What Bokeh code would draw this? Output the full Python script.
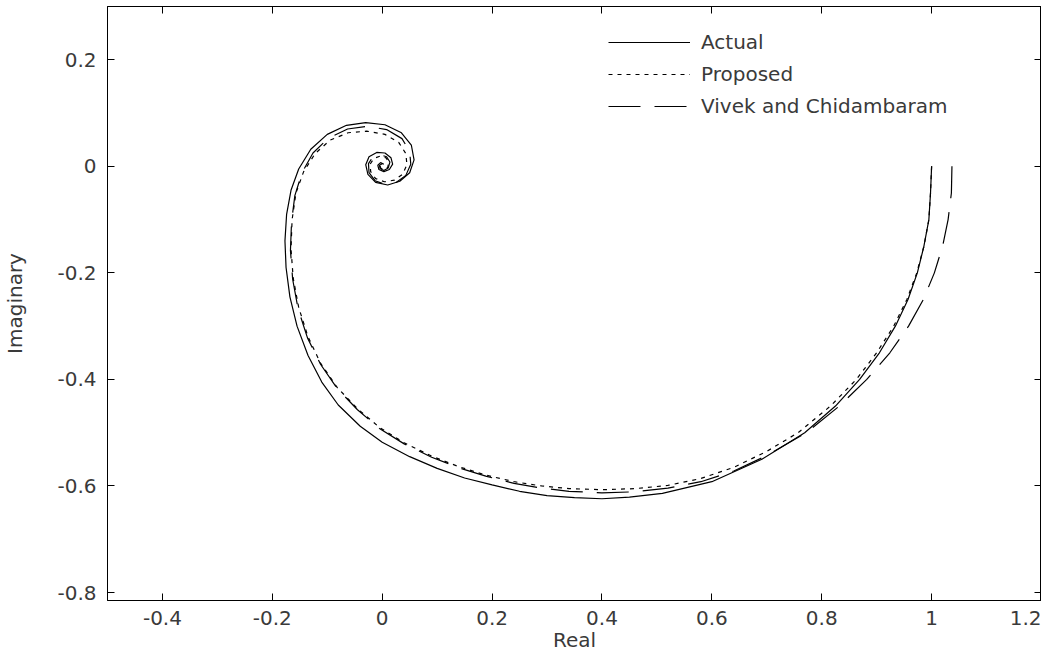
from bokeh.plotting import figure
from bokeh.models import (Legend, LegendItem, LinearAxis, FixedTicker,
                          CustomJSTickFormatter, Range1d)
from bokeh.embed import file_html
from bokeh.resources import INLINE

# ---------------- data ----------------
x_ticks = [-0.4, -0.2, 0, 0.2, 0.4, 0.6, 0.8, 1, 1.2]
x_tick_labels = ["-0.4", "-0.2", "0", "0.2", "0.4", "0.6", "0.8", "1", "1.2"]
y_ticks = [-0.8, -0.6, -0.4, -0.2, 0, 0.2]
y_tick_labels = ["-0.8", "-0.6", "-0.4", "-0.2", "0", "0.2"]

actual_re = [1.000, 0.998, 0.995, 0.986, 0.974, 0.957, 0.934, 0.905, 0.869, 0.825,
             0.769, 0.691, 0.600, 0.510, 0.450, 0.400, 0.350, 0.300, 0.250, 0.200,
             0.150, 0.100, 0.050, 0.000, -0.040, -0.080, -0.110, -0.135, -0.155,
             -0.168, -0.175, -0.177, -0.174, -0.166, -0.152, -0.130, -0.100, -0.065,
             -0.030, 0.005, 0.035, 0.053, 0.058, 0.050, 0.032, 0.010, -0.012, -0.026,
             -0.030, -0.024, -0.010, 0.005, 0.016, 0.019, 0.013, 0.003, -0.006,
             -0.008, -0.003, 0.003]
actual_im = [0.000, -0.050, -0.100, -0.150, -0.200, -0.250, -0.300, -0.350, -0.400,
             -0.450, -0.500, -0.550, -0.592, -0.614, -0.621, -0.624, -0.622, -0.618,
             -0.610, -0.598, -0.585, -0.567, -0.545, -0.518, -0.488, -0.448, -0.405,
             -0.355, -0.300, -0.245, -0.190, -0.140, -0.090, -0.045, -0.005, 0.032,
             0.060, 0.077, 0.082, 0.078, 0.063, 0.040, 0.012, -0.012, -0.028, -0.035,
             -0.030, -0.015, 0.003, 0.018, 0.026, 0.025, 0.016, 0.004, -0.006, -0.010,
             -0.006, 0.002, 0.007, 0.004]

proposed_re = [1.000, 0.998, 0.995, 0.986, 0.973, 0.955, 0.931, 0.900, 0.863, 0.816,
               0.757, 0.700, 0.640, 0.580, 0.520, 0.460, 0.400, 0.340, 0.290, 0.240,
               0.190, 0.140, 0.090, 0.040, -0.005, -0.045, -0.082, -0.112, -0.135,
               -0.152, -0.162, -0.166, -0.164, -0.157, -0.143, -0.122, -0.095, -0.062,
               -0.028, 0.005, 0.030, 0.043, 0.045, 0.037, 0.022, 0.004, -0.012, -0.021,
               -0.022, -0.015, -0.004, 0.007, 0.012, 0.010, 0.003, -0.003, -0.004, 0.000]
proposed_im = [0.000, -0.050, -0.100, -0.150, -0.200, -0.250, -0.300, -0.350, -0.400,
               -0.450, -0.500, -0.535, -0.565, -0.586, -0.599, -0.605, -0.607, -0.605,
               -0.600, -0.592, -0.580, -0.564, -0.544, -0.519, -0.490, -0.455, -0.415,
               -0.370, -0.320, -0.265, -0.210, -0.155, -0.100, -0.050, -0.010, 0.024,
               0.049, 0.063, 0.066, 0.060, 0.045, 0.024, 0.003, -0.015, -0.026, -0.029,
               -0.023, -0.010, 0.004, 0.015, 0.019, 0.016, 0.007, -0.002, -0.006,
               -0.003, 0.002, 0.004]

vivek_re = [1.037, 1.036, 1.030, 1.020, 1.005, 0.985, 0.958, 0.924, 0.882, 0.832,
            0.772, 0.700, 0.640, 0.580, 0.520, 0.460, 0.400, 0.340, 0.290, 0.240,
            0.190, 0.140, 0.090, 0.040, -0.005, -0.045, -0.082, -0.112, -0.136,
            -0.153, -0.163, -0.167, -0.165, -0.159, -0.146, -0.126, -0.098, -0.063,
            -0.027, 0.008, 0.036, 0.050, 0.052, 0.043, 0.026, 0.005, -0.013, -0.024,
            -0.025, -0.017, -0.005, 0.008, 0.014, 0.011, 0.003, -0.004, -0.005, 0.000]
vivek_im = [0.000, -0.050, -0.100, -0.150, -0.200, -0.250, -0.300, -0.350, -0.400,
            -0.450, -0.500, -0.543, -0.572, -0.592, -0.604, -0.611, -0.613, -0.610,
            -0.604, -0.595, -0.582, -0.566, -0.546, -0.521, -0.492, -0.457, -0.417,
            -0.372, -0.322, -0.268, -0.212, -0.158, -0.104, -0.055, -0.012, 0.025,
            0.053, 0.070, 0.075, 0.069, 0.052, 0.028, 0.004, -0.017, -0.030, -0.034,
            -0.027, -0.012, 0.005, 0.018, 0.022, 0.018, 0.008, -0.003, -0.008,
            -0.004, 0.002, 0.005]

series_labels = ["Actual", "Proposed", "Vivek and Chidambaram"]

# ---------------- figure ----------------
FONT = "DejaVu Sans"
TXT = "#3a3a3a"

p = figure(width=1041, height=658,
           x_range=Range1d(-0.5, 1.2), y_range=Range1d(-0.815, 0.3),
           output_backend="svg", toolbar_location=None,
           min_border_left=101, min_border_right=0,
           min_border_top=6, min_border_bottom=58,
           x_axis_label="Real", y_axis_label="Imaginary")
p.xgrid.visible = False
p.ygrid.visible = False
p.outline_line_color = "black"
p.outline_line_width = 1
p.background_fill_color = "white"
p.border_fill_color = "white"

fmt = CustomJSTickFormatter(code="return String(parseFloat(tick.toFixed(2)));")

xa = p.xaxis[0]
ya = p.yaxis[0]
xa.ticker = FixedTicker(ticks=x_ticks)
ya.ticker = FixedTicker(ticks=y_ticks)
xa.formatter = fmt
ya.formatter = fmt
xa.major_label_overrides = dict(zip(x_ticks, x_tick_labels))
ya.major_label_overrides = dict(zip(y_ticks, y_tick_labels))
for ax in (xa, ya):
    ax.major_tick_in = 7
    ax.major_tick_out = 0
    ax.minor_tick_line_color = None
    ax.axis_line_color = "black"
    ax.major_tick_line_color = "black"
    ax.major_label_text_font = FONT
    ax.major_label_text_font_size = "20px"
    ax.major_label_text_color = TXT
    ax.axis_label_text_font = FONT
    ax.axis_label_text_font_size = "20px"
    ax.axis_label_text_font_style = "normal"
    ax.axis_label_text_color = TXT
xa.major_label_standoff = 10
ya.major_label_standoff = 11
xa.axis_label_standoff = 0
ya.axis_label_standoff = 27

# mirrored tick marks on the top and right sides (box on)
top = LinearAxis(ticker=FixedTicker(ticks=x_ticks))
right = LinearAxis(ticker=FixedTicker(ticks=y_ticks))
for ax in (top, right):
    ax.major_tick_in = 7
    ax.major_tick_out = 0
    ax.minor_tick_line_color = None
    ax.axis_line_color = "black"
    ax.major_label_text_font_size = "0px"
    ax.major_label_standoff = 0
    ax.major_label_text_alpha = 0
p.add_layout(top, "above")
p.add_layout(right, "right")

r1 = p.line(actual_re, actual_im, line_color="black", line_width=1.2)
r2 = p.line(proposed_re, proposed_im, line_color="black", line_width=1.2,
            line_dash="4 5")
r3 = p.line(vivek_re, vivek_im, line_color="black", line_width=1.2,
            line_dash="32 14")

legend = Legend(items=[LegendItem(label=series_labels[0], renderers=[r1]),
                       LegendItem(label=series_labels[1], renderers=[r2]),
                       LegendItem(label=series_labels[2], renderers=[r3])],
                location=(501, 481), glyph_width=82, glyph_height=26,
                label_height=26, label_standoff=11, spacing=6, padding=0,
                margin=0, border_line_color=None, background_fill_alpha=0,
                label_text_font=FONT, label_text_font_size="20px",
                label_text_color=TXT)
p.add_layout(legend)

open("out.html", "w").write(file_html(p, INLINE))
